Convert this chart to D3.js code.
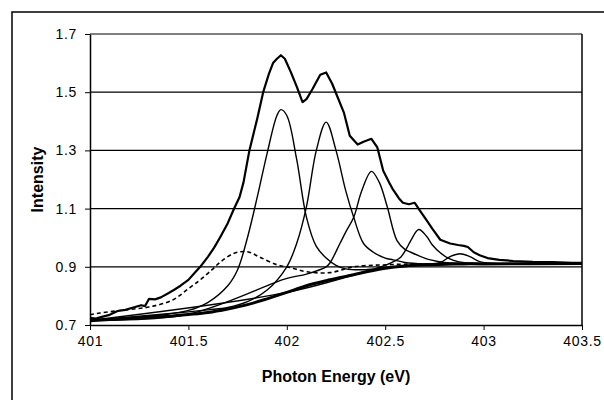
<!DOCTYPE html>
<html>
<head>
<meta charset="utf-8">
<script src="https://cdn.jsdelivr.net/npm/d3@7"></script>
<style>
  body { margin: 0; background: #fff; }
  svg text { font-family: "Liberation Sans", Arial, sans-serif; fill: #000; }
</style>
</head>
<body>
<svg id="chart" width="604" height="400"></svg>
<script>
// tick values
var xTicks = [401, 401.5, 402, 402.5, 403, 403.5];
var yTicks = [0.7, 0.9, 1.1, 1.3, 1.5, 1.7];

// measured spectrum (photon energy, intensity)
var dataE = [401.00, 401.03, 401.06, 401.10, 401.14, 401.18, 401.22, 401.26, 401.28, 401.30,
             401.33, 401.36, 401.40, 401.43, 401.46, 401.50, 401.53, 401.56, 401.60, 401.63,
             401.66, 401.70, 401.73, 401.76, 401.78, 401.81, 401.85, 401.88, 401.91, 401.93,
             401.95, 401.97, 401.99, 402.02, 402.05, 402.08, 402.10, 402.13, 402.15, 402.17,
             402.20, 402.23, 402.26, 402.29, 402.32, 402.36, 402.39, 402.43, 402.46, 402.49,
             402.52, 402.54, 402.57, 402.59, 402.62, 402.65, 402.68, 402.71, 402.74, 402.78,
             402.81, 402.83, 402.87, 402.90, 402.92, 402.95, 402.98, 403.02, 403.08, 403.15,
             403.25, 403.35, 403.45, 403.50];
var dataI = [0.725, 0.722, 0.728, 0.735, 0.748, 0.752, 0.760, 0.768, 0.765, 0.790,
             0.788, 0.795, 0.810, 0.822, 0.835, 0.855, 0.878, 0.900, 0.935, 0.965,
             1.000, 1.050, 1.097, 1.140, 1.190, 1.300, 1.410, 1.500, 1.565, 1.600,
             1.615, 1.627, 1.615, 1.570, 1.520, 1.466, 1.476, 1.510, 1.535, 1.560,
             1.568, 1.530, 1.480, 1.430, 1.350, 1.320, 1.330, 1.340, 1.310, 1.230,
             1.190, 1.165, 1.135, 1.120, 1.115, 1.120, 1.090, 1.060, 1.030, 0.993,
             0.985, 0.980, 0.975, 0.972, 0.968, 0.950, 0.940, 0.930, 0.924, 0.920,
             0.917, 0.916, 0.914, 0.914];

// step background
var bgE = [401.0, 401.1, 401.2, 401.3, 401.4, 401.5, 401.6, 401.7, 401.8, 401.9, 402.0,
           402.1, 402.2, 402.3, 402.4, 402.5, 402.6, 402.7, 402.8, 402.9, 403.0, 403.5];
var bgI = [0.715, 0.719, 0.722, 0.726, 0.730, 0.736, 0.743, 0.755, 0.770, 0.790, 0.812,
           0.835, 0.852, 0.867, 0.882, 0.895, 0.903, 0.907, 0.909, 0.910, 0.910, 0.911];

// fitted peaks (on top of background)
var p1E = [401.0, 401.2, 401.4, 401.5, 401.6, 401.7, 401.75, 401.8, 401.85, 401.9, 401.95,
           401.97, 402.0, 402.05, 402.1, 402.15, 402.2, 402.25, 402.3, 402.4, 402.5, 402.6, 403.0, 403.5];
var p1I = [0.716, 0.724, 0.738, 0.750, 0.778, 0.835, 0.890, 1.000, 1.140, 1.290, 1.420,
           1.440, 1.420, 1.270, 1.070, 0.970, 0.930, 0.905, 0.893, 0.890, 0.897, 0.903, 0.910, 0.911];

var p2E = [401.0, 401.5, 401.6, 401.7, 401.8, 401.9, 402.0, 402.05, 402.1, 402.15, 402.2,
           402.25, 402.3, 402.34, 402.39, 402.44, 402.5, 402.54, 402.6, 402.7, 403.0, 403.5];
var p2I = [0.716, 0.745, 0.752, 0.760, 0.780, 0.820, 0.900, 0.980, 1.107, 1.300, 1.397,
           1.300, 1.160, 1.070, 0.980, 0.950, 0.930, 0.924, 0.915, 0.910, 0.910, 0.911];

var p3E = [401.0, 401.5, 402.0, 402.1, 402.2, 402.22, 402.27, 402.3, 402.34, 402.38, 402.43,
           402.47, 402.51, 402.56, 402.6, 402.63, 402.7, 402.73, 402.8, 402.9, 403.0, 403.5];
var p3I = [0.716, 0.737, 0.860, 0.875, 0.900, 0.914, 0.980, 1.020, 1.070, 1.160, 1.228,
           1.190, 1.107, 0.990, 0.960, 0.950, 0.930, 0.924, 0.915, 0.912, 0.911, 0.911];

var p4E = [401.0, 402.0, 402.4, 402.5, 402.55, 402.58, 402.61, 402.63, 402.67, 402.71,
           402.74, 402.78, 402.82, 402.87, 402.95, 403.5];
var p4I = [0.716, 0.812, 0.884, 0.905, 0.920, 0.934, 0.965, 0.990, 1.028, 1.005,
           0.975, 0.948, 0.930, 0.918, 0.912, 0.911];

var p5E = [402.6, 402.7, 402.78, 402.83, 402.88, 402.93, 402.98, 403.05, 403.5];
var p5I = [0.903, 0.908, 0.915, 0.935, 0.945, 0.935, 0.918, 0.912, 0.911];

// broad low-energy component (dashed)
var bdE = [401.0, 401.05, 401.18, 401.3, 401.42, 401.5, 401.56, 401.62, 401.66, 401.73,
           401.8, 401.86, 401.95, 402.02, 402.1, 402.22, 402.34, 402.51, 402.7, 403.0, 403.5];
var bdI = [0.735, 0.741, 0.752, 0.762, 0.786, 0.825, 0.855, 0.890, 0.915, 0.946,
           0.952, 0.934, 0.907, 0.897, 0.883, 0.880, 0.900, 0.907, 0.910, 0.910, 0.910];

var svg = d3.select("#chart");
var plotLeft = 90, plotRight = 582, plotTop = 34, plotBottom = 325;

var x = d3.scaleLinear().domain([401, 403.5]).range([plotLeft, plotRight]);
var y = d3.scaleLinear().domain([0.7, 1.7]).range([plotBottom, plotTop]);

// outer chart frame
svg.append("path")
  .attr("d", "M12,400V12H604")
  .attr("fill", "none")
  .attr("stroke", "#000")
  .attr("stroke-width", 1.5);

// horizontal gridlines
svg.append("g").selectAll("line")
  .data(yTicks.slice(1))
  .enter()
  .append("line")
  .attr("x1", plotLeft).attr("x2", plotRight)
  .attr("y1", function(d){ return y(d); })
  .attr("y2", function(d){ return y(d); })
  .attr("stroke", "#000")
  .attr("stroke-width", 1.2);

// right border of plot area
svg.append("line")
  .attr("x1", plotRight).attr("x2", plotRight)
  .attr("y1", plotTop).attr("y2", plotBottom)
  .attr("stroke", "#000")
  .attr("stroke-width", 1.5);

var xAxis = svg.append("g")
  .attr("transform", "translate(0," + plotBottom + ")")
  .call(d3.axisBottom(x).tickValues(xTicks).tickSize(5).tickSizeOuter(0).tickPadding(6)
        .tickFormat(function(d){ return d; }));
var yAxis = svg.append("g")
  .attr("transform", "translate(" + plotLeft + ",0)")
  .call(d3.axisLeft(y).tickValues(yTicks).tickSize(5).tickSizeOuter(0).tickPadding(8)
        .tickFormat(d3.format(".1f")));

[xAxis, yAxis].forEach(function(a){
  a.selectAll(".domain").attr("stroke", "#000").attr("stroke-width", 1.5);
  a.selectAll(".tick line").attr("stroke", "#000").attr("stroke-width", 1);
  a.selectAll("text")
    .style("font-family", "'Liberation Sans', Arial, sans-serif")
    .style("font-size", "14px")
    .style("letter-spacing", "0.7px")
    .attr("fill", "#000");
});

function drawCurve(es, vs, width, dash, curve) {
  var pts = es.map(function(e, i){ return [e, vs[i]]; });
  var line = d3.line()
    .x(function(d){ return x(d[0]); })
    .y(function(d){ return y(d[1]); })
    .curve(curve || d3.curveCatmullRom.alpha(0.5));
  svg.append("path")
    .datum(pts)
    .attr("d", line)
    .attr("fill", "none")
    .attr("stroke", "#000")
    .attr("stroke-width", width)
    .attr("stroke-linejoin", "round")
    .attr("stroke-dasharray", dash || null);
}

drawCurve(bgE, bgI, 3);
drawCurve(bdE, bdI, 1.6, "4,3");
drawCurve(p1E, p1I, 1.4);
drawCurve(p2E, p2I, 1.4);
drawCurve(p3E, p3I, 1.4);
drawCurve(p4E, p4I, 1.4);
drawCurve(p5E, p5I, 1.4);
drawCurve(dataE, dataI, 2.2, null, d3.curveLinear);

// axis titles
svg.append("text")
  .attr("x", (plotLeft + plotRight) / 2)
  .attr("y", 382)
  .attr("text-anchor", "middle")
  .style("font-size", "16px")
  .style("font-weight", "bold")
  .text("Photon Energy (eV)");

svg.append("text")
  .attr("transform", "translate(43," + ((plotTop + plotBottom) / 2) + ") rotate(-90)")
  .attr("text-anchor", "middle")
  .style("font-size", "16px")
  .style("font-weight", "bold")
  .text("Intensity");
</script>
</body>
</html>
